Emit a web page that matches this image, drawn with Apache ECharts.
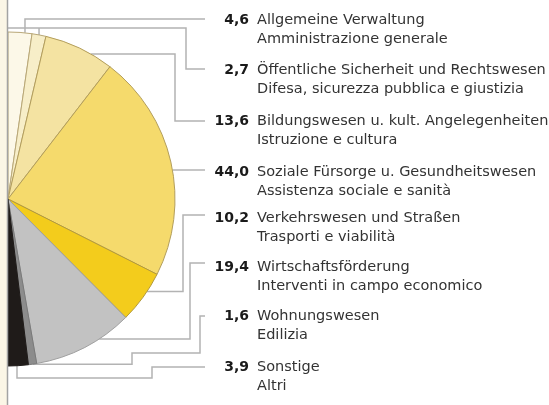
<!DOCTYPE html>
<html>
<head>
<meta charset="utf-8">
<script src="https://cdn.jsdelivr.net/npm/echarts@6/dist/echarts.min.js"></script>
<style>
    html, body { margin: 0; padding: 0; background: #fff; }
    #pie-budget { width: 549px; height: 405px; }
</style>
</head>
<body>
<div id="pie-budget"></div>
<script>
const values = [4.6, 2.7, 13.6, 44.0, 10.2, 19.4, 1.6, 3.9]
const namesDe = [
    'Allgemeine Verwaltung',
    'Öffentliche Sicherheit und Rechtswesen',
    'Bildungswesen u. kult. Angelegenheiten',
    'Soziale Fürsorge u. Gesundheitswesen',
    'Verkehrswesen und Straßen',
    'Wirtschaftsförderung',
    'Wohnungswesen',
    'Sonstige'
]
const namesIt = [
    'Amministrazione generale',
    'Difesa, sicurezza pubblica e giustizia',
    'Istruzione e cultura',
    'Assistenza sociale e sanità',
    'Trasporti e viabilità',
    'Interventi in campo economico',
    'Edilizia',
    'Altri'
]
const colors = ['#fcf8e8', '#f7eec8', '#f4e3a2', '#f5da6c', '#f3cc1c', '#c2c2c2', '#8c8c8c', '#1f1b19']
const borders = ['#b9a878', '#b9a878', '#b39e5c', '#b39e5c', '#b39a3c', '#a0a0a0', '#7a7a7a', '#1f1b19']

// pie geometry + label column
const CX = 8, CY = 199, R = 167
const NUM_RIGHT = 249, GAP = 8, LINE_H = 19
const labelY = [20, 70, 121, 172, 218, 267, 316, 367]
// where the leader leaves its slice (0..1 across the slice) and how it runs to the label
const anchorT = [0.705, 0.5, 0.678, 0.535, 0.37, 0.336, 0.5, 0.56]
const routes = [
    [['y', 19], ['x', 205]],
    [['y', 28], ['x', 8], ['x', 186], ['y', 69], ['x', 205]],
    [['x', 175], ['y', 121], ['x', 205]],
    [['x', 205]],
    [['x', 183], ['y', 215], ['x', 205]],
    [['x', 190], ['y', 263], ['x', 205]],
    [['x', 132], ['y', 353], ['x', 200], ['y', 316], ['x', 205]],
    [['y', 378], ['x', 152], ['y', 367], ['x', 205]]
]

const FONT = 'DejaVu Sans'
const ctx = document.createElement('canvas').getContext('2d')
ctx.font = 'bold 14px "' + FONT + '"'
const numText = values.map(v => v.toFixed(1).replace('.', ','))
const numW = numText.map(s => ctx.measureText(s).width)
const colW = Math.max(...numW)
const labelX = NUM_RIGHT - colW

const cum = [0]
values.forEach(v => cum.push(cum[cum.length - 1] + v))
const total = cum[cum.length - 1]

function leaderPoints(i) {
    const rad = (cum[i] + anchorT[i] * values[i]) / total * Math.PI
    let x = CX + R * Math.sin(rad)
    let y = CY - R * Math.cos(rad)
    const pts = [[x, y]]
    routes[i].forEach(([axis, v]) => {
        if (axis === 'x') x = v
        else y = v
        pts.push([x, y])
    })
    return pts
}

const rich = {
    n: { fontFamily: FONT, fontWeight: 'bold', fontSize: 14, color: '#1a1a1a', lineHeight: LINE_H },
    t: { fontFamily: FONT, fontSize: 14.5, color: '#333', lineHeight: LINE_H },
    g: { width: GAP, fontSize: 14, lineHeight: LINE_H },
    s: { width: colW + GAP, fontSize: 14, lineHeight: LINE_H }
}
values.forEach((v, i) => {
    rich['p' + i] = { width: colW - numW[i], fontSize: 14, lineHeight: LINE_H }
})

const myChart = echarts.init(document.getElementById('pie-budget'))

myChart.setOption({
    animation: false,
    backgroundColor: '#fff',
    graphic: [
        { type: 'rect', left: 0, top: 0, shape: { width: 7, height: 405 }, style: { fill: '#fbf6e6' }, z: -1 },
        { type: 'line', shape: { x1: 7.5, y1: 0, x2: 7.5, y2: 405 }, style: { stroke: '#a3a3a3', lineWidth: 1.5 }, z: 100 }
    ],
    series: [{
        type: 'pie',
        center: [CX, CY],
        radius: R,
        startAngle: 90,
        endAngle: -90,
        clockwise: true,
        avoidLabelOverlap: false,
        silent: true,
        emphasis: { disabled: true },
        itemStyle: { borderWidth: 1 },
        data: values.map((v, i) => ({
            value: v,
            name: namesDe[i],
            itemStyle: { color: colors[i], borderColor: borders[i] }
        })),
        label: {
            show: true,
            position: 'outside',
            width: 330,
            overflow: 'none',
            rich: rich,
            formatter: p => {
                const i = p.dataIndex
                const pad = colW - numW[i] > 0.5 ? '{p' + i + '| }' : ''
                return pad + '{n|' + numText[i] + '}{g| }{t|' + namesDe[i] + '}\n{s| }{t|' + namesIt[i] + '}'
            }
        },
        labelLine: {
            show: true,
            smooth: false,
            lineStyle: { color: '#b3b3b3', width: 1.5 }
        },
        labelLayout: p => {
            const i = p.dataIndex
            return {
                x: labelX,
                y: labelY[i] - LINE_H / 2,
                align: 'left',
                verticalAlign: 'top',
                labelLinePoints: leaderPoints(i)
            }
        }
    }]
})
</script>
</body>
</html>
